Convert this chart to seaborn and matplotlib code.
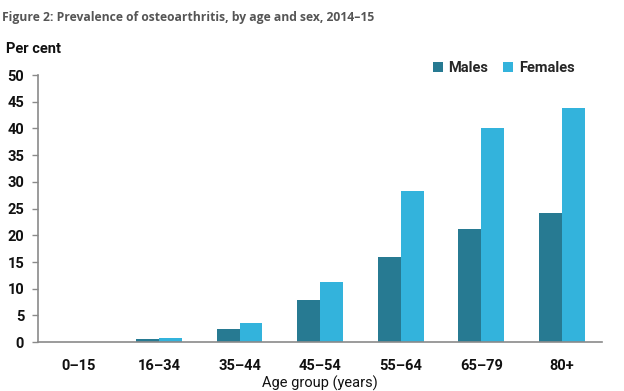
import matplotlib
matplotlib.use("Agg")
import matplotlib.pyplot as plt
import seaborn as sns
import pandas as pd
from matplotlib import font_manager

age_groups = ["0–15", "16–34", "35–44", "45–54", "55–64", "65–79", "80+"]
males = [0.0, 0.6, 2.4, 7.9, 15.9, 21.2, 24.1]
females = [0.0, 0.8, 3.6, 11.2, 28.3, 40.0, 43.9]
series = ["Males", "Females"]
yticks = list(range(0, 55, 5))

df = pd.DataFrame({
    "Age": age_groups * 2,
    "Value": males + females,
    "Sex": ["Males"] * len(age_groups) + ["Females"] * len(age_groups),
})

sns.set_theme(style="white")
names = {f.name for f in font_manager.fontManager.ttflist}
cond = "Liberation Sans Narrow" if "Liberation Sans Narrow" in names else "Roboto"
plt.rcParams["font.family"] = [cond, "DejaVu Sans"]

fig = plt.figure(figsize=(6.24, 3.91), dpi=100)
ax = fig.add_axes([0.061, 0.125, 0.904, 0.683])

palette = {"Males": "#277a92", "Females": "#33b3dc"}
sns.barplot(data=df, x="Age", y="Value", hue="Sex", hue_order=series,
            palette=palette, width=0.57, saturation=1, ax=ax, linewidth=0)

ax.set_ylim(0, 50)
ax.set_yticks(yticks)
ax.set_xlim(-0.5, len(age_groups) - 0.5)
for s in ["top", "right"]:
    ax.spines[s].set_visible(False)
for s in ["left", "bottom"]:
    ax.spines[s].set_color("#8a8a8a")
    ax.spines[s].set_linewidth(1.2)
ax.tick_params(axis="y", left=True, length=4, width=1, color="#8a8a8a",
               labelsize=10.5, pad=6)
ax.tick_params(axis="x", bottom=False, labelsize=10.5, pad=6)
for lab in ax.get_xticklabels() + ax.get_yticklabels():
    lab.set_fontweight("bold")
    lab.set_color("#111111")
ax.set_xlabel("Age group (years)", fontsize=10.5, color="#111111", labelpad=2)
ax.set_ylabel("")

leg = ax.legend(loc="upper right", bbox_to_anchor=(0.975, 1.1), ncol=2, frameon=False,
                fontsize=10.5, handlelength=0.7, handleheight=0.7,
                handletextpad=0.4, columnspacing=1.0)
for t in leg.get_texts():
    t.set_fontweight("bold")

fig.text(0.004, 0.955, "Figure 2: Prevalence of osteoarthritis, by age and sex, 2014–15",
         fontsize=8.7, fontweight="bold", color="#555555", family=["Open Sans", "DejaVu Sans"],
         va="center")
fig.text(0.010, 0.875, "Per cent", fontsize=10.5, fontweight="bold", color="#111111",
         va="center")

fig.savefig("out.png", dpi=100)
